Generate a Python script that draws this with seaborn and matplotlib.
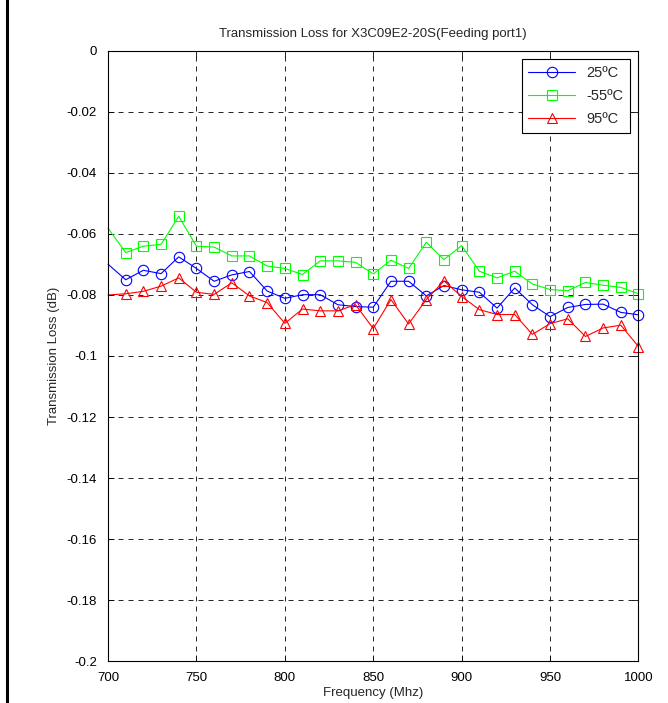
import pandas as pd
import matplotlib
matplotlib.use("Agg")
import matplotlib.pyplot as plt
import seaborn as sns
from matplotlib.lines import Line2D

# Frequencies (MHz) and transmission loss (dB)
freq = [700, 710, 720, 730, 740, 750, 760, 770, 780, 790, 800,
        810, 820, 830, 840, 850, 860, 870, 880, 890, 900,
        910, 920, 930, 940, 950, 960, 970, 980, 990, 1000]

loss_25 = [-0.0699, -0.0750, -0.0719, -0.0730, -0.0675, -0.0713, -0.0755, -0.0734,
           -0.0723, -0.0787, -0.0811, -0.0799, -0.0799, -0.0832, -0.0838, -0.0840,
           -0.0755, -0.0755, -0.0803, -0.0769, -0.0783, -0.0791, -0.0843, -0.0777,
           -0.0832, -0.0871, -0.0841, -0.0831, -0.0830, -0.0857, -0.0865]

loss_m55 = [-0.0581, -0.0661, -0.0640, -0.0634, -0.0542, -0.0640, -0.0643, -0.0672,
            -0.0672, -0.0705, -0.0713, -0.0733, -0.0688, -0.0688, -0.0693, -0.0731,
            -0.0686, -0.0713, -0.0627, -0.0684, -0.0638, -0.0722, -0.0744, -0.0722,
            -0.0764, -0.0782, -0.0786, -0.0759, -0.0768, -0.0775, -0.0796]

loss_95 = [-0.0800, -0.0796, -0.0788, -0.0771, -0.0744, -0.0791, -0.0798, -0.0760,
           -0.0803, -0.0825, -0.0893, -0.0846, -0.0852, -0.0852, -0.0832, -0.0910,
           -0.0815, -0.0895, -0.0815, -0.0754, -0.0805, -0.0848, -0.0864, -0.0864,
           -0.0929, -0.0894, -0.0878, -0.0936, -0.0908, -0.0899, -0.0969]

series = [("25ºC", loss_25, "#0000ff", "o"),
          ("-55ºC", loss_m55, "#00ff00", "s"),
          ("95ºC", loss_95, "#ff0000", "^")]

sns.set_style("ticks")
plt.rcParams["font.family"] = ["Liberation Sans", "DejaVu Sans"]
plt.rcParams["font.size"] = 9.5

fig = plt.figure(figsize=(6.68, 7.03), dpi=100)
ax = fig.add_axes([0.1617, 0.0597, 0.9558 - 0.1617, 0.9275 - 0.0597])

# the reference shows no marker on the first sample (700 MHz edge)
marks = list(range(1, len(freq)))
for label, vals, col, mk in series:
    df = pd.DataFrame({"Frequency": freq, "Loss": vals})
    sns.lineplot(data=df, x="Frequency", y="Loss", ax=ax, color=col,
                 marker=mk, markersize=7.5, markerfacecolor="none",
                 markeredgecolor=col, markeredgewidth=0.8, linewidth=0.8,
                 markevery=marks, clip_on=False, label=label)

ax.set_xlim(700, 1000)
ax.set_ylim(-0.2, 0)
ax.set_xticks([700, 750, 800, 850, 900, 950, 1000])
ax.set_yticks([-0.2, -0.18, -0.16, -0.14, -0.12, -0.1, -0.08, -0.06, -0.04, -0.02, 0])
ax.set_yticklabels(["-0.2", "-0.18", "-0.16", "-0.14", "-0.12", "-0.1",
                    "-0.08", "-0.06", "-0.04", "-0.02", "0"])
ax.grid(True, color="black", linestyle=(0, (6, 6)), linewidth=0.6)
ax.tick_params(direction="in", top=True, right=True, length=4, width=0.6,
               labelsize=9.5, colors="black", pad=8)
for sp in ax.spines.values():
    sp.set_visible(True)
    sp.set_linewidth(0.8)
    sp.set_color("black")

ax.set_title("Transmission Loss for X3C09E2-20S(Feeding port1)", fontsize=9.5, pad=10)
ax.set_xlabel("Frequency (Mhz)", fontsize=9.5, labelpad=2)
ax.set_ylabel("Transmission Loss (dB)", fontsize=9.5, labelpad=5)

leg = ax.legend(loc="upper right", fancybox=False, framealpha=1, edgecolor="black",
                fontsize=10.5, handlelength=3.2, borderpad=0.45, labelspacing=0.62,
                bbox_to_anchor=(0.998, 0.998))
leg.get_frame().set_linewidth(0.8)

# left border line of the original figure window
fig.add_artist(Line2D([0.0112, 0.0112], [0, 1], color="black", linewidth=2.2))

fig.savefig("out.png", dpi=100)
